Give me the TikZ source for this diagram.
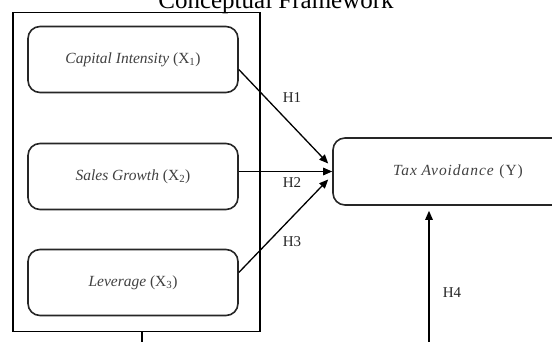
\documentclass[tikz,border=0pt]{standalone}
\usepackage{fontspec}
\setmainfont{Liberation Serif}
\usetikzlibrary{arrows.meta,calc}
\begin{document}
\begin{tikzpicture}[x=1pt,y=-1pt,
  var/.style={draw=black!85, line width=1.6pt, rounded corners=12pt, minimum width=210pt, minimum height=66pt, inner sep=0pt, font=\fontsize{15.5}{18}\selectfont, text=black!75},
  hyp/.style={font=\fontsize{15}{17}\selectfont, text=black!85, inner sep=0pt},
  conn/.style={line width=1.3pt, -{Triangle[length=9pt,width=7.5pt]}}
]
\useasboundingbox (0,0) rectangle (552,342);
\node[font=\fontsize{25}{30}\selectfont, anchor=base, inner sep=0pt] (title) at (276,9) {Conceptual Framework};
\node[draw, line width=1.4pt, minimum width=247pt, minimum height=319pt, inner sep=0pt] (frame) at (136.5,172) {};
\node[var] (x1) at (133,59.5) {\textit{Capital Intensity} (X\textsubscript{1})};
\node[var] (x2) at (133,176.5) {\textit{Sales Growth} (X\textsubscript{2})};
\node[var] (x3) at (133,282.5) {\textit{Leverage} (X\textsubscript{3})};
\node[var, minimum width=232pt, minimum height=67pt] (y) at (449,171.5) {\hspace*{18pt}\addfontfeature{LetterSpace=6}\textit{Tax Avoidance} (Y)};
\coordinate (fbot) at (142,345);
\coordinate (h4s) at (429,345);
\draw[line width=1.3pt] (frame.south -| fbot) -- (fbot);
\draw[conn] ([yshift=-10pt]x1.east) -- ([xshift=-4pt,yshift=8pt]y.west);
\draw[conn] (x2.east |- y.west) -- (y.west);
\draw[conn] ([yshift=10pt]x3.east) -- ([xshift=-4pt,yshift=-8pt]y.west);
\draw[conn] (h4s) -- ([yshift=-5pt]y.south -| h4s);
\node[hyp] (h1) at (292,98) {H1};
\node[hyp] (h2) at (292,183) {H2};
\node[hyp] (h3) at (292,242) {H3};
\node[hyp] (h4) at (452,293) {H4};
\end{tikzpicture}
\end{document}
